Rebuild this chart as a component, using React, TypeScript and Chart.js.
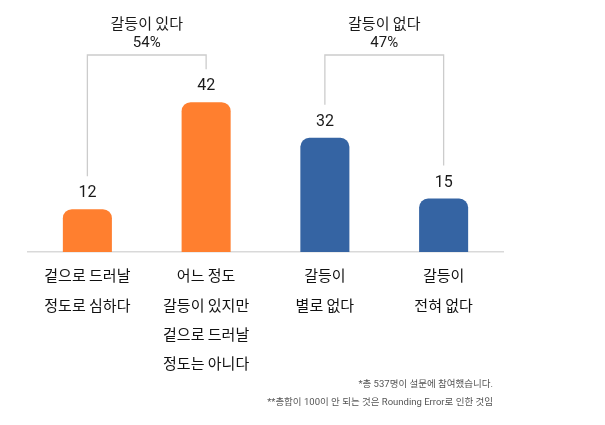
import { useEffect, useRef } from "react";
import Chart from "chart.js/auto";

// answers and their shares (%)
const categories: string[][] = [
  ["겉으로 드러날", "정도로 심하다"],
  ["어느 정도", "갈등이 있지만", "겉으로 드러날", "정도는 아니다"],
  ["갈등이", "별로 없다"],
  ["갈등이", "전혀 없다"],
];
const values = [12, 42, 32, 15];
const barColors = ["#FF7F2F", "#FF7F2F", "#3564A3", "#3564A3"];

// bracket groups: [first bar, last bar]
const groupTitles = ["갈등이 있다", "갈등이 없다"];
const groupTotals = ["54%", "47%"];
const groupBars = [
  [0, 1],
  [2, 3],
];

const footnotes = [
  "*총 537명이 설문에 참여했습니다.",
  "**총합이 100이 안 되는 것은 Rounding Error로 인한 것임",
];

const FONT = "Roboto, 'Noto Sans CJK KR', sans-serif";
const KFONT = "'Noto Sans CJK KR', sans-serif";

const annotations = {
  id: "annotations",
  afterDatasetsDraw(chart: Chart) {
    const ctx = chart.ctx;
    const bars = chart.getDatasetMeta(0).data;
    ctx.save();

    // value labels above the bars
    ctx.fillStyle = "#1a1a1a";
    ctx.font = `16px ${FONT}`;
    ctx.textAlign = "center";
    ctx.textBaseline = "middle";
    bars.forEach((bar, i) => {
      ctx.fillText(String(values[i]), bar.x, bar.y - 16);
    });

    // brackets and group titles
    const bracketTop = 55;
    groupBars.forEach(([a, b], g) => {
      const ba = bars[a];
      const bb = bars[b];
      ctx.strokeStyle = "#cccccc";
      ctx.lineWidth = 1.3;
      ctx.beginPath();
      ctx.moveTo(ba.x, ba.y - 33);
      ctx.lineTo(ba.x, bracketTop);
      ctx.lineTo(bb.x, bracketTop);
      ctx.lineTo(bb.x, bb.y - 33);
      ctx.stroke();

      const mid = (ba.x + bb.x) / 2;
      ctx.fillStyle = "#1a1a1a";
      ctx.font = `15px ${KFONT}`;
      ctx.fillText(groupTitles[g], mid, 23);
      ctx.font = `15px ${FONT}`;
      ctx.fillText(groupTotals[g], mid, 43);
    });

    // footnotes
    ctx.fillStyle = "#555";
    ctx.font = `9.5px ${FONT}`;
    ctx.textAlign = "right";
    ctx.fillText(footnotes[0], 493, 385);
    ctx.fillText(footnotes[1], 493, 403);

    ctx.restore();
  },
};

const App = () => {
  const chartRef = useRef<HTMLCanvasElement | null>(null);
  const chartInstance = useRef<Chart | null>(null);

  useEffect(() => {
    if (!chartRef.current) return;
    if (chartInstance.current) {
      chartInstance.current.destroy();
    }
    const ctx = chartRef.current.getContext("2d");
    if (ctx) {
      chartInstance.current = new Chart(ctx, {
        type: "bar",
        data: {
          labels: categories,
          datasets: [
            {
              data: values,
              backgroundColor: barColors,
              borderRadius: { topLeft: 9, topRight: 9, bottomLeft: 0, bottomRight: 0 },
              borderSkipped: "bottom",
              categoryPercentage: 1,
              barPercentage: 0.413,
            },
          ],
        },
        options: {
          animation: false,
          responsive: true,
          maintainAspectRatio: false,
          layout: { padding: { top: 38, left: 28, right: 102, bottom: 38 } },
          plugins: {
            legend: { display: false },
            tooltip: { enabled: false },
          },
          scales: {
            x: {
              grid: { display: false, drawTicks: false },
              border: { display: true, color: "#d9d9d9", width: 1.5 },
              ticks: {
                color: "#111",
                padding: 9,
                autoSkip: false,
                maxRotation: 0,
                font: { family: KFONT, size: 15, lineHeight: 1.95 },
              },
            },
            y: {
              display: false,
              min: 0,
              max: 60,
            },
          },
        },
        plugins: [annotations],
      });
    }
    return () => {
      if (chartInstance.current) {
        chartInstance.current.destroy();
        chartInstance.current = null;
      }
    };
  }, []);

  return (
    <div style={{ position: "fixed", left: 0, top: 0, width: 605, height: 425, background: "#fff" }}>
      <canvas ref={chartRef} />
    </div>
  );
};

export default App;
